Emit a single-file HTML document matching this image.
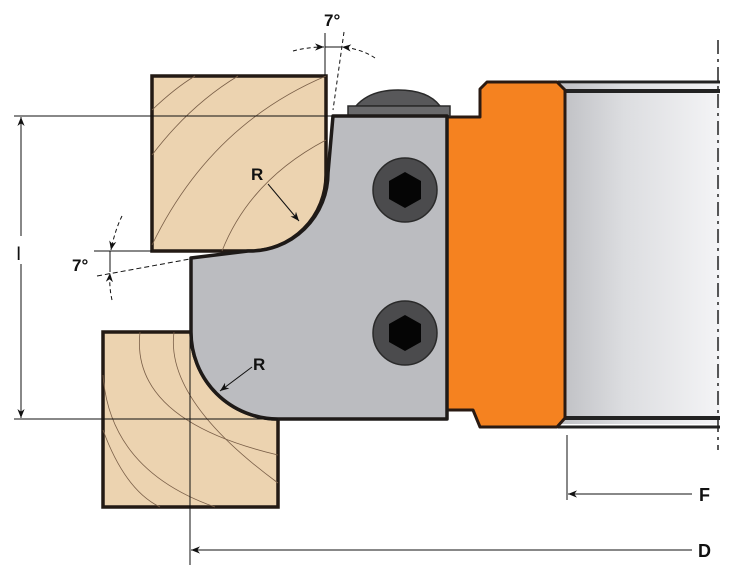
<!DOCTYPE html>
<html><head><meta charset="utf-8"><style>
html,body{margin:0;padding:0;background:#fff;}
svg{display:block;}
text{font-family:"Liberation Sans",sans-serif;font-weight:bold;fill:#111;}
</style></head><body>
<svg width="735" height="582" viewBox="0 0 735 582" xmlns="http://www.w3.org/2000/svg">
<defs>
<linearGradient id="sh" x1="0" x2="1" y1="0" y2="0">
<stop offset="0" stop-color="#bfc0c4"/><stop offset="0.4" stop-color="#dcdde0"/><stop offset="1" stop-color="#f4f4f6"/>
</linearGradient>
<marker id="ar" viewBox="0 0 10 10" refX="10" refY="5" markerWidth="9" markerHeight="9" orient="auto-start-reverse">
<path d="M0,1 L10,5 L0,9 L3,5 z" fill="#111"/></marker>
</defs>

<rect x="560" y="84" width="160" height="340" fill="url(#sh)"/>
<line x1="558" y1="82" x2="720" y2="82" stroke="#222" stroke-width="3"/>
<line x1="565" y1="91" x2="720" y2="91" stroke="#222" stroke-width="4"/>
<line x1="565" y1="418" x2="720" y2="418" stroke="#222" stroke-width="4"/>
<line x1="558" y1="427" x2="720" y2="427" stroke="#222" stroke-width="3"/>
<line x1="718" y1="40" x2="718" y2="450" stroke="#222" stroke-width="1.5" stroke-dasharray="14,5,3,5"/>

<path d="M447,117 L480,117 L480,89 L487,82 L557,82 L565,90 L565,418 L557,427 L480,427 L473,410 L447,410 Z" fill="#f58220" stroke="#2a1a12" stroke-width="3" stroke-linejoin="round"/>

<path d="M356,106 Q370,90 398,90 Q428,90 440,106 Z" fill="#58585a" stroke="#2a2a2a" stroke-width="1.5"/>
<rect x="348" y="106" width="102" height="10" fill="#6a6a6c" stroke="#2a2a2a" stroke-width="1.5"/>

<path d="M152,76 L326,76 L326,175 A76,76 0 0 1 250,251 L152,251 Z" fill="#ecd3b0" stroke="#231a14" stroke-width="3.5"/>
<g fill="none" stroke="#7a5f48" stroke-width="0.8">
<path d="M152,110 Q175,88 195,76"/>
<path d="M152,155 Q190,105 238,76"/>
<path d="M152,245 Q210,125 326,76"/>
<path d="M222,251 Q250,180 326,140"/>
</g>

<path d="M103,332 L191,332 A87,87 0 0 0 278,419 L278,507 L103,507 Z" fill="#ecd3b0" stroke="#231a14" stroke-width="3.5"/>
<g fill="none" stroke="#7a5f48" stroke-width="0.8">
<path d="M140,332 Q130,420 278,455"/>
<path d="M174,332 Q165,400 278,483"/>
<path d="M103,375 Q110,470 215,507"/>
<path d="M103,430 Q125,490 160,507"/>
</g>

<path d="M333,116 L447,116 L447,419 L278,419 A87,87 0 0 1 191,332 L191,258 L248,251 A78,78 0 0 0 328,173 Z" fill="#bbbcc0" stroke="#1e1a18" stroke-width="3.5" stroke-linejoin="round"/>

<g>
<circle cx="405" cy="190" r="32" fill="#4b4b4d" stroke="#2a2a2a" stroke-width="1.5"/>
<polygon points="405,172 421,181 421,199 405,208 389,199 389,181" fill="#050505"/>
<circle cx="405" cy="333" r="32" fill="#4b4b4d" stroke="#2a2a2a" stroke-width="1.5"/>
<polygon points="405,315 421,324 421,342 405,351 389,342 389,324" fill="#050505"/>
</g>

<line x1="14" y1="116" x2="333" y2="116" stroke="#111" stroke-width="1"/>
<line x1="14" y1="419" x2="278" y2="419" stroke="#111" stroke-width="1"/>
<line x1="21" y1="117" x2="21" y2="418" stroke="#111" stroke-width="1" marker-start="url(#ar)" marker-end="url(#ar)"/>
<rect x="14" y="236" width="14" height="28" fill="#fff"/>
<text x="16" y="260" font-size="19" style="font-weight:normal">I</text>

<line x1="190" y1="340" x2="190" y2="565" stroke="#111" stroke-width="1"/>
<line x1="692" y1="550" x2="191" y2="550" stroke="#111" stroke-width="1" marker-end="url(#ar)"/>
<text x="698" y="557" font-size="18">D</text>

<line x1="567" y1="435" x2="567" y2="500" stroke="#111" stroke-width="1"/>
<line x1="692" y1="494" x2="568" y2="494" stroke="#111" stroke-width="1" marker-end="url(#ar)"/>
<text x="699" y="501" font-size="18">F</text>

<text x="251" y="180" font-size="17">R</text>
<line x1="268" y1="184" x2="299" y2="221" stroke="#111" stroke-width="1" marker-end="url(#ar)"/>
<text x="253" y="370" font-size="17">R</text>
<line x1="252" y1="367" x2="220" y2="391" stroke="#111" stroke-width="1" marker-end="url(#ar)"/>

<text x="324" y="26" font-size="17">7°</text>
<line x1="325" y1="33" x2="325" y2="76" stroke="#111" stroke-width="1"/>
<line x1="344" y1="32" x2="333" y2="110" stroke="#111" stroke-width="1" stroke-dasharray="4,3"/>
<line x1="325" y1="47" x2="342" y2="47" stroke="#111" stroke-width="1"/>
<path d="M293,51 Q308,47 324,47" fill="none" stroke="#111" stroke-width="1" stroke-dasharray="4,3" marker-end="url(#ar)"/>
<path d="M375,58 Q362,49 342,47" fill="none" stroke="#111" stroke-width="1" stroke-dasharray="4,3" marker-end="url(#ar)"/>

<text x="72" y="271" font-size="17">7°</text>
<line x1="94" y1="251" x2="152" y2="251" stroke="#111" stroke-width="1"/>
<line x1="97" y1="276" x2="190" y2="259" stroke="#111" stroke-width="1" stroke-dasharray="5,3"/>
<line x1="110" y1="251" x2="110" y2="272" stroke="#111" stroke-width="1"/>
<path d="M122,216 Q115,230 111,250" fill="none" stroke="#111" stroke-width="1" stroke-dasharray="4,3" marker-end="url(#ar)"/>
<path d="M112,300 Q109,287 110,273" fill="none" stroke="#111" stroke-width="1" stroke-dasharray="4,3" marker-end="url(#ar)"/>
</svg>
</body></html>
